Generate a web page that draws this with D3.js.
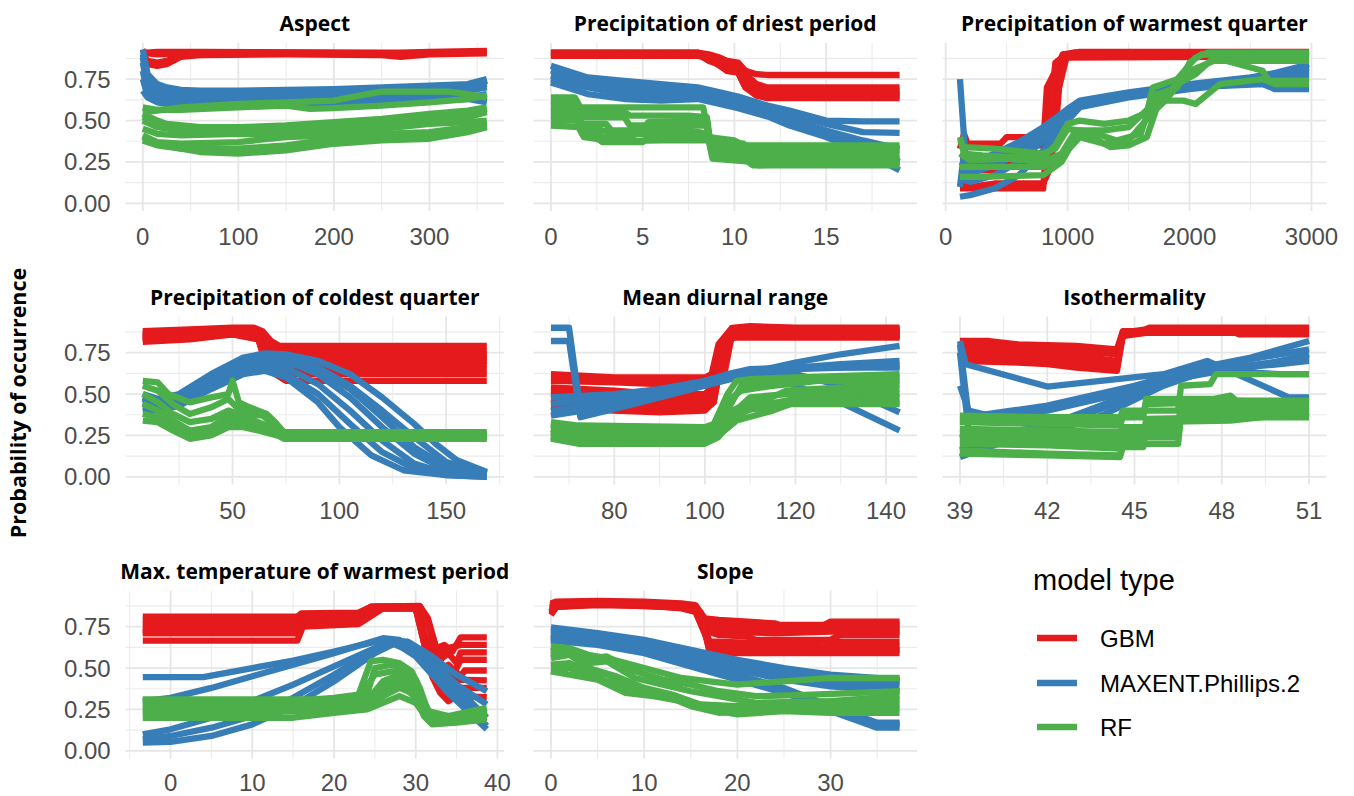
<!DOCTYPE html>
<html>
<head>
<meta charset="utf-8">
<script src="https://cdn.jsdelivr.net/npm/d3@7"></script>
<style>
  body { margin: 0; background: #fff; }
  svg { display: block; }
  .strip { font-family: 'Open Sans', sans-serif; font-weight: 700; font-size: 21px; fill: #000; }
  .axis-title { font-family: 'Open Sans', sans-serif; font-weight: 700; font-size: 21.5px; fill: #000; }
  .tick-label { font-family: 'Liberation Sans', Arial, sans-serif; font-size: 24px; fill: #4d4d4d; }
  .legend-title { font-family: 'Liberation Sans', Arial, sans-serif; font-size: 29px; fill: #000; }
  .legend-label { font-family: 'Liberation Sans', Arial, sans-serif; font-size: 24px; fill: #000; }
</style>
</head>
<body>
<script>
// ---- data ----
var modelTypes = ['GBM', 'MAXENT.Phillips.2', 'RF'];
var panelTitles = ['Aspect', 'Precipitation of driest period', 'Precipitation of warmest quarter',
  'Precipitation of coldest quarter', 'Mean diurnal range', 'Isothermality',
  'Max. temperature of warmest period', 'Slope'];
var yTicks = [0, 0.25, 0.5, 0.75];

// each line is a list of [x, probability] points
var aspectTicks = [0, 100, 200, 300];
var aspectGBM = [
  [[0,0.91],[5,0.91],[15,0.915],[60,0.915],[250,0.91],[270,0.91],[300,0.915],[360,0.92]],
  [[0,0.90],[5,0.86],[15,0.85],[25,0.86],[40,0.895],[60,0.90],[150,0.905],[250,0.90],[270,0.895],[300,0.905],[360,0.91]],
  [[0,0.88],[5,0.84],[15,0.83],[25,0.84],[40,0.885],[60,0.895],[150,0.90],[250,0.895],[270,0.885],[300,0.90],[360,0.905]],
  [[0,0.92],[5,0.905],[15,0.90],[40,0.905],[100,0.91],[250,0.905],[270,0.90],[300,0.91],[360,0.915]]
];
var aspectMAXENT = [
  [[0,0.93],[5,0.78],[15,0.72],[25,0.70],[40,0.685],[60,0.68],[100,0.68],[200,0.69],[300,0.71],[340,0.72],[360,0.75]],
  [[0,0.90],[5,0.74],[15,0.69],[25,0.67],[40,0.66],[100,0.655],[200,0.665],[300,0.69],[340,0.70],[360,0.72]],
  [[0,0.88],[5,0.72],[15,0.675],[25,0.66],[40,0.65],[100,0.645],[200,0.655],[300,0.68],[340,0.69],[360,0.74]],
  [[0,0.85],[5,0.70],[15,0.66],[25,0.645],[40,0.635],[100,0.63],[200,0.64],[300,0.665],[340,0.68],[360,0.70]],
  [[0,0.80],[5,0.66],[15,0.63],[25,0.62],[40,0.61],[100,0.605],[200,0.615],[300,0.635],[340,0.65],[360,0.63]],
  [[0,0.75],[5,0.65],[15,0.62],[25,0.61],[40,0.60],[100,0.60],[200,0.61],[300,0.625],[340,0.64],[360,0.66]],
  [[0,0.68],[5,0.64],[15,0.61],[25,0.60],[60,0.59],[100,0.59],[200,0.60],[300,0.62],[340,0.63],[360,0.61]]
];
var aspectRF = [
  [[0,0.58],[15,0.565],[40,0.565],[100,0.58],[150,0.59],[175,0.57],[200,0.575],[250,0.59],[300,0.61],[340,0.63],[360,0.65]],
  [[0,0.54],[15,0.50],[25,0.48],[60,0.46],[100,0.46],[150,0.47],[200,0.49],[250,0.51],[300,0.54],[340,0.56],[360,0.58]],
  [[0,0.52],[15,0.48],[40,0.45],[100,0.44],[150,0.46],[200,0.48],[250,0.50],[300,0.52],[340,0.54],[360,0.57]],
  [[0,0.50],[15,0.46],[40,0.44],[100,0.43],[150,0.44],[200,0.46],[250,0.47],[300,0.51],[340,0.52],[360,0.55]],
  [[0,0.45],[15,0.42],[40,0.41],[100,0.42],[150,0.41],[200,0.43],[250,0.45],[300,0.48],[340,0.49],[360,0.50]],
  [[0,0.41],[15,0.37],[40,0.36],[100,0.37],[150,0.40],[200,0.41],[250,0.40],[300,0.41],[340,0.45],[360,0.47]],
  [[0,0.38],[15,0.35],[40,0.33],[100,0.33],[150,0.35],[200,0.39],[250,0.42],[300,0.43],[340,0.46],[360,0.48]],
  [[0,0.40],[15,0.36],[25,0.35],[40,0.33],[60,0.31],[100,0.30],[150,0.32],[200,0.36],[250,0.38],[300,0.39],[340,0.43],[360,0.46]],
  [[0,0.55],[15,0.56],[40,0.58],[100,0.60],[150,0.61],[200,0.62],[235,0.66],[250,0.675],[320,0.675],[340,0.66],[360,0.64]]
];

var driestTicks = [0, 5, 10, 15];
var driestGBM = [
  [[0,0.91],[8,0.91],[8.6,0.90],[9.2,0.88],[9.6,0.86],[10.2,0.85],[10.6,0.80],[11.2,0.78],[11.8,0.775],[19,0.775]],
  [[0,0.91],[8,0.91],[8.6,0.88],[9.2,0.85],[9.6,0.82],[10.2,0.80],[10.6,0.78],[11.2,0.72],[11.8,0.70],[19,0.70]],
  [[0,0.90],[8,0.905],[8.6,0.87],[9.2,0.83],[9.6,0.80],[10.2,0.79],[10.6,0.70],[11.2,0.67],[11.8,0.66],[19,0.66]],
  [[0,0.90],[8,0.90],[8.6,0.87],[9.2,0.86],[9.6,0.84],[10.2,0.83],[10.6,0.76],[11.2,0.68],[11.8,0.65],[19,0.65]],
  [[0,0.89],[8,0.90],[8.6,0.86],[9.2,0.84],[9.6,0.80],[10.2,0.79],[10.6,0.70],[11.2,0.65],[11.8,0.635],[19,0.635]],
  [[0,0.89],[8,0.89],[8.6,0.88],[9.2,0.86],[9.6,0.85],[10.2,0.82],[10.6,0.75],[11.2,0.70],[11.8,0.68],[19,0.68]]
];
var driestMAXENT = [
  [[0,0.83],[2,0.76],[4,0.74],[6,0.72],[8,0.70],[9.2,0.67],[10.2,0.645],[11.8,0.59],[13,0.56],[15,0.50],[17,0.495],[19,0.495]],
  [[0,0.80],[2,0.74],[4,0.72],[6,0.70],[8,0.69],[9.2,0.66],[10.2,0.63],[11.8,0.58],[13,0.54],[15,0.48],[17,0.43],[19,0.425]],
  [[0,0.77],[2,0.72],[4,0.69],[6,0.67],[8,0.67],[9.2,0.64],[10.2,0.61],[11.8,0.56],[13,0.51],[15,0.44],[17,0.38],[19,0.33]],
  [[0,0.75],[2,0.70],[4,0.66],[6,0.64],[8,0.65],[9.2,0.62],[10.2,0.59],[11.8,0.54],[13,0.49],[15,0.42],[17,0.34],[19,0.25]],
  [[0,0.73],[2,0.66],[4,0.63],[6,0.62],[8,0.63],[9.2,0.60],[10.2,0.575],[11.8,0.525],[13,0.47],[15,0.40],[17,0.31],[19,0.20]]
];
var driestRF = [
  [[0,0.64],[1.3,0.64],[1.6,0.58],[8.3,0.58],[8.6,0.40],[10,0.38],[10.5,0.35],[19,0.35]],
  [[0,0.62],[1.3,0.61],[1.6,0.55],[4,0.55],[4.3,0.53],[7.5,0.53],[8.5,0.52],[8.7,0.36],[10.8,0.33],[11,0.30],[19,0.30]],
  [[0,0.60],[1.3,0.60],[1.6,0.52],[4,0.52],[4.3,0.47],[8.5,0.47],[8.7,0.38],[10.5,0.36],[11,0.32],[19,0.32]],
  [[0,0.58],[1.4,0.57],[1.7,0.48],[3,0.48],[3.3,0.44],[5,0.44],[5.3,0.49],[8,0.50],[8.5,0.50],[8.7,0.33],[10.5,0.31],[11,0.27],[19,0.27]],
  [[0,0.55],[1.4,0.55],[1.7,0.44],[2.5,0.43],[2.8,0.40],[4.5,0.41],[5,0.45],[7,0.45],[8.6,0.42],[8.8,0.31],[10.5,0.29],[11,0.24],[19,0.24]],
  [[0,0.53],[1.4,0.52],[1.7,0.46],[4,0.42],[5,0.42],[8.6,0.41],[8.8,0.30],[11,0.28],[11.3,0.26],[19,0.26]],
  [[0,0.50],[1.4,0.50],[1.7,0.42],[2.5,0.40],[2.8,0.37],[5,0.37],[5.3,0.40],[7,0.40],[8.6,0.39],[8.8,0.29],[10.5,0.27],[11,0.23],[19,0.23]],
  [[0,0.47],[1.5,0.46],[1.8,0.40],[2.5,0.39],[2.8,0.375],[6,0.38],[8.6,0.38],[8.8,0.27],[11,0.25],[11.3,0.23],[19,0.25]]
];

var warmestTicks = [0, 1000, 2000, 3000];
var warmestGBM = [
  [[117,0.33],[150,0.42],[180,0.36],[450,0.36],[500,0.40],[650,0.40],[700,0.35],[800,0.35],[830,0.70],[900,0.80],[960,0.90],[1100,0.915],[2980,0.915]],
  [[117,0.28],[170,0.28],[500,0.28],[800,0.27],[850,0.55],[920,0.86],[1000,0.90],[2980,0.90]],
  [[117,0.25],[170,0.24],[800,0.24],[830,0.26],[870,0.75],[950,0.88],[1050,0.91],[2980,0.91]],
  [[117,0.18],[170,0.20],[450,0.20],[500,0.24],[820,0.24],[900,0.60],[980,0.89],[2980,0.90]],
  [[117,0.12],[200,0.10],[400,0.12],[800,0.12],[850,0.20],[900,0.42],[930,0.70],[990,0.88],[2250,0.885],[2980,0.885]],
  [[117,0.09],[300,0.09],[800,0.09],[820,0.30],[900,0.85],[1000,0.90],[2980,0.905]]
];
var warmestMAXENT = [
  [[117,0.75],[160,0.30],[200,0.22],[400,0.27],[600,0.33],[800,0.42],[1000,0.55],[1100,0.61],[1500,0.66],[2000,0.71],[2500,0.75],[2980,0.80]],
  [[117,0.25],[200,0.24],[400,0.30],[600,0.37],[800,0.46],[1000,0.57],[1100,0.62],[1500,0.67],[2000,0.72],[2500,0.76],[2980,0.82]],
  [[117,0.20],[200,0.18],[400,0.23],[600,0.30],[800,0.42],[1000,0.55],[1100,0.61],[1500,0.665],[2000,0.715],[2500,0.75],[2980,0.84]],
  [[117,0.15],[200,0.13],[400,0.17],[600,0.25],[800,0.38],[1000,0.53],[1100,0.60],[1500,0.65],[2000,0.70],[2600,0.72],[2700,0.69],[2980,0.69]],
  [[117,0.04],[200,0.05],[400,0.09],[600,0.17],[800,0.32],[1000,0.50],[1100,0.58],[1500,0.64],[2000,0.69],[2500,0.73],[2980,0.76]],
  [[117,0.10],[150,0.30],[200,0.26],[400,0.25],[600,0.30],[800,0.40],[1000,0.52],[1100,0.59],[1500,0.645],[2000,0.70],[2500,0.74],[2980,0.78]]
];
var warmestRF = [
  [[117,0.40],[150,0.30],[300,0.29],[500,0.28],[800,0.28],[900,0.35],[1000,0.48],[1100,0.50],[1300,0.48],[1500,0.50],[1650,0.55],[1700,0.70],[1900,0.75],[2050,0.88],[2150,0.91],[2980,0.91]],
  [[117,0.38],[150,0.34],[400,0.33],[800,0.30],[900,0.33],[1000,0.45],[1200,0.43],[1400,0.38],[1600,0.42],[1700,0.65],[1900,0.70],[2000,0.85],[2100,0.90],[2980,0.89]],
  [[117,0.30],[200,0.26],[500,0.27],[800,0.25],[950,0.30],[1050,0.42],[1200,0.40],[1350,0.34],[1500,0.35],[1650,0.40],[1750,0.62],[1950,0.62],[2050,0.60],[2250,0.72],[2600,0.75],[2700,0.72],[2980,0.72]],
  [[117,0.22],[300,0.22],[800,0.22],[950,0.28],[1100,0.40],[1300,0.36],[1500,0.38],[1700,0.55],[1800,0.62],[2000,0.80],[2200,0.86],[2980,0.86]],
  [[117,0.16],[300,0.16],[800,0.17],[950,0.25],[1100,0.44],[1300,0.44],[1500,0.46],[1700,0.60],[1900,0.72],[2050,0.78],[2200,0.88],[2600,0.80],[2650,0.74],[2980,0.74]]
];

var coldestTicks = [50, 100, 150];
var coldestGBM = [
  [[8,0.88],[30,0.89],[50,0.90],[60,0.90],[64,0.88],[68,0.82],[72,0.79],[169,0.79]],
  [[8,0.87],[30,0.88],[50,0.89],[62,0.88],[66,0.80],[72,0.76],[169,0.76]],
  [[8,0.85],[30,0.87],[50,0.89],[62,0.87],[66,0.78],[72,0.74],[169,0.74]],
  [[8,0.86],[30,0.87],[50,0.885],[62,0.87],[65,0.75],[70,0.72],[169,0.72]],
  [[8,0.83],[30,0.85],[50,0.87],[62,0.85],[65,0.74],[70,0.70],[169,0.70]],
  [[8,0.85],[30,0.86],[50,0.88],[62,0.86],[66,0.70],[72,0.68],[169,0.68]],
  [[8,0.815],[30,0.83],[50,0.86],[62,0.83],[66,0.68],[72,0.65],[169,0.65]],
  [[8,0.84],[30,0.85],[50,0.87],[62,0.85],[66,0.72],[68,0.65],[74,0.62],[169,0.62]],
  [[8,0.82],[30,0.84],[50,0.86],[62,0.84],[66,0.66],[70,0.62],[75,0.58],[169,0.58]]
];
var coldestMAXENT = [
  [[8,0.50],[15,0.47],[25,0.50],[40,0.62],[55,0.72],[65,0.745],[75,0.74],[90,0.70],[105,0.62],[120,0.48],[135,0.32],[145,0.20],[155,0.10],[169,0.03]],
  [[8,0.48],[15,0.45],[25,0.48],[40,0.60],[55,0.70],[65,0.73],[75,0.72],[90,0.66],[105,0.55],[120,0.40],[135,0.24],[150,0.09],[169,0.02]],
  [[8,0.47],[15,0.44],[25,0.47],[40,0.59],[55,0.69],[65,0.72],[75,0.70],[90,0.62],[105,0.48],[120,0.30],[135,0.14],[150,0.04],[169,0.01]],
  [[8,0.45],[15,0.43],[25,0.46],[40,0.57],[55,0.67],[65,0.70],[75,0.69],[90,0.64],[105,0.53],[120,0.36],[135,0.18],[150,0.06],[169,0.02]],
  [[8,0.44],[15,0.42],[25,0.45],[40,0.56],[55,0.66],[65,0.68],[75,0.66],[90,0.56],[105,0.40],[120,0.22],[135,0.08],[150,0.02],[169,0.01]],
  [[8,0.42],[15,0.41],[25,0.44],[40,0.54],[55,0.63],[65,0.65],[75,0.62],[90,0.50],[105,0.32],[120,0.15],[135,0.05],[150,0.01],[169,0.0]],
  [[8,0.40],[15,0.40],[25,0.43],[40,0.53],[55,0.62],[65,0.64],[75,0.60],[90,0.45],[100,0.30],[115,0.13],[130,0.04],[150,0.01],[169,0.0]]
];
var coldestRF = [
  [[8,0.58],[15,0.57],[20,0.50],[30,0.45],[40,0.48],[48,0.50],[50,0.58],[53,0.45],[58,0.42],[62,0.40],[66,0.38],[70,0.33],[74,0.27],[169,0.27]],
  [[8,0.55],[15,0.52],[22,0.44],[30,0.38],[40,0.42],[48,0.47],[52,0.42],[58,0.38],[64,0.37],[68,0.33],[73,0.26],[169,0.26]],
  [[8,0.50],[15,0.45],[22,0.38],[30,0.33],[40,0.35],[48,0.40],[55,0.37],[62,0.33],[70,0.29],[74,0.25],[169,0.25]],
  [[8,0.44],[15,0.40],[22,0.34],[30,0.28],[40,0.30],[48,0.37],[55,0.35],[62,0.30],[70,0.27],[74,0.24],[169,0.24]],
  [[8,0.38],[15,0.36],[22,0.30],[30,0.25],[40,0.27],[48,0.34],[55,0.32],[62,0.29],[70,0.26],[74,0.23],[169,0.23]],
  [[8,0.34],[15,0.33],[22,0.28],[30,0.23],[40,0.25],[48,0.30],[55,0.30],[62,0.28],[74,0.24],[169,0.24]]
];

var diurnalTicks = [80, 100, 120, 140];
var diurnalGBM = [
  [[66,0.62],[80,0.60],[100,0.60],[101.5,0.62],[103,0.80],[106,0.90],[110,0.91],[120,0.90],[143,0.90]],
  [[66,0.60],[80,0.585],[100,0.58],[102,0.60],[103.5,0.78],[106,0.89],[143,0.89]],
  [[66,0.58],[80,0.57],[90,0.56],[100,0.55],[102,0.58],[103.5,0.80],[106,0.88],[115,0.88],[143,0.88]],
  [[66,0.54],[80,0.52],[90,0.50],[100,0.50],[102,0.55],[104,0.82],[107,0.89],[120,0.87],[143,0.87]],
  [[66,0.52],[80,0.50],[90,0.47],[100,0.47],[102,0.52],[104,0.78],[107,0.86],[143,0.86]],
  [[66,0.50],[80,0.48],[90,0.45],[100,0.45],[102,0.50],[104,0.75],[106,0.86],[120,0.85],[143,0.85]],
  [[66,0.47],[80,0.45],[90,0.43],[100,0.43],[102,0.47],[104,0.72],[106,0.85],[143,0.85]],
  [[66,0.45],[80,0.43],[90,0.41],[100,0.41],[102,0.45],[103.5,0.70],[106,0.84],[143,0.84]],
  [[66,0.42],[80,0.40],[90,0.39],[100,0.40],[101.5,0.44],[103,0.62],[104,0.58],[106,0.86],[143,0.86]]
];
var diurnalMAXENT = [
  [[66,0.90],[70,0.90],[71.5,0.60],[72.5,0.42],[80,0.45],[90,0.50],[100,0.57],[110,0.63],[120,0.69],[130,0.74],[143,0.79]],
  [[66,0.82],[70,0.82],[71.5,0.55],[72.5,0.36],[80,0.41],[90,0.48],[100,0.55],[110,0.62],[120,0.66],[130,0.68],[143,0.70]],
  [[66,0.48],[80,0.50],[90,0.53],[100,0.58],[105,0.62],[110,0.65],[120,0.66],[143,0.66]],
  [[66,0.44],[80,0.48],[90,0.52],[100,0.57],[110,0.63],[120,0.62],[130,0.55],[143,0.39]],
  [[66,0.40],[80,0.45],[90,0.51],[100,0.57],[110,0.62],[115,0.60],[130,0.45],[143,0.28]],
  [[66,0.37],[80,0.43],[90,0.49],[100,0.56],[110,0.64],[120,0.65],[143,0.67]]
];
var diurnalRF = [
  [[66,0.33],[72,0.31],[100,0.30],[102,0.32],[105,0.50],[107,0.58],[110,0.59],[120,0.60],[143,0.62]],
  [[66,0.32],[72,0.30],[100,0.29],[102,0.31],[105,0.46],[108,0.52],[115,0.55],[125,0.58],[143,0.58]],
  [[66,0.31],[72,0.28],[100,0.28],[102,0.30],[106,0.45],[108,0.55],[115,0.57],[130,0.60],[143,0.60]],
  [[66,0.29],[72,0.25],[100,0.25],[103,0.30],[106,0.40],[110,0.45],[114,0.47],[118,0.52],[143,0.56]],
  [[66,0.28],[72,0.26],[100,0.26],[103,0.29],[106,0.38],[110,0.48],[118,0.50],[143,0.53]],
  [[66,0.27],[72,0.23],[100,0.23],[103,0.28],[106,0.36],[112,0.43],[118,0.46],[143,0.50]],
  [[66,0.25],[72,0.22],[100,0.22],[103,0.27],[107,0.40],[115,0.42],[120,0.48],[143,0.48]],
  [[66,0.23],[72,0.20],[100,0.20],[103,0.24],[107,0.38],[112,0.44],[120,0.44],[143,0.44]],
  [[66,0.24],[72,0.21],[100,0.21],[103,0.25],[107,0.34],[115,0.40],[120,0.45],[143,0.45]]
];

var isoTicks = [39, 42, 45, 48, 51];
var isoGBM = [
  [[39,0.82],[40,0.82],[41,0.80],[43,0.79],[44.4,0.77],[44.6,0.88],[45.3,0.88],[45.5,0.90],[48.3,0.90],[51,0.90]],
  [[39,0.80],[41,0.78],[43,0.76],[44.4,0.74],[44.6,0.86],[45.3,0.87],[45.5,0.89],[48.3,0.89],[48.6,0.87],[51,0.87]],
  [[39,0.78],[41,0.76],[43,0.73],[44.4,0.70],[44.6,0.86],[45.4,0.88],[48.3,0.88],[48.6,0.86],[51,0.86]],
  [[39,0.76],[41,0.74],[43,0.72],[44.4,0.69],[44.6,0.85],[45.4,0.87],[51,0.87]],
  [[39,0.74],[41,0.73],[43,0.70],[44.4,0.67],[44.6,0.86],[45.4,0.88],[48.3,0.88],[48.6,0.89],[51,0.89]],
  [[39,0.72],[41,0.71],[42,0.70],[43,0.68],[44.4,0.66],[44.6,0.87],[45.4,0.89],[51,0.89]],
  [[39,0.70],[41,0.69],[42,0.68],[43,0.66],[44.4,0.64],[44.6,0.86],[45.4,0.87],[48.4,0.87],[48.6,0.88],[51,0.88]]
];
var isoMAXENT = [
  [[39,0.82],[39.2,0.68],[42,0.545],[46,0.62],[47.5,0.70],[50.3,0.48],[51,0.48]],
  [[39,0.55],[39.3,0.40],[40,0.37],[42,0.40],[45,0.52],[47.5,0.68],[49,0.66],[51,0.74]],
  [[39,0.80],[39.3,0.36],[40,0.38],[42,0.43],[45,0.55],[47,0.65],[49,0.72],[51,0.82]],
  [[39,0.75],[39.3,0.27],[40,0.25],[42,0.31],[44,0.44],[46,0.60],[48,0.68],[51,0.77]],
  [[39,0.12],[40,0.18],[42,0.30],[44,0.44],[46,0.58],[48,0.64],[50,0.62],[51,0.62]],
  [[39,0.16],[40,0.20],[42,0.30],[44,0.42],[46,0.57],[48,0.65],[50,0.68],[51,0.70]],
  [[39,0.26],[39.5,0.24],[41,0.23],[42,0.26],[44,0.38],[46,0.55],[47.5,0.64],[51,0.72]]
];
var isoRF = [
  [[39,0.37],[42,0.36],[44.5,0.36],[44.6,0.40],[46.5,0.40],[46.6,0.55],[47.6,0.56],[47.8,0.62],[51,0.62]],
  [[39,0.35],[42,0.34],[44.5,0.33],[44.6,0.38],[45.3,0.38],[45.4,0.44],[47.7,0.45],[51,0.44]],
  [[39,0.33],[42,0.32],[44.5,0.31],[44.6,0.36],[45.3,0.36],[45.4,0.47],[47.7,0.47],[48.3,0.49],[48.5,0.46],[51,0.46]],
  [[39,0.29],[42,0.28],[44.5,0.27],[44.6,0.30],[46.5,0.30],[46.6,0.42],[48.3,0.44],[48.5,0.42],[51,0.42]],
  [[39,0.27],[42,0.26],[44.5,0.25],[44.6,0.28],[46.5,0.28],[46.6,0.45],[48.3,0.46],[51,0.45]],
  [[39,0.25],[42,0.24],[44.5,0.22],[44.6,0.26],[46.5,0.26],[46.6,0.40],[48.3,0.41],[51,0.40]],
  [[39,0.22],[42,0.21],[44.5,0.20],[44.6,0.24],[46.5,0.24],[46.6,0.36],[51,0.36]],
  [[39,0.20],[42,0.19],[44.5,0.17],[44.6,0.22],[45.3,0.22],[45.4,0.35],[48.3,0.36],[48.5,0.37],[51,0.37]],
  [[39,0.16],[42,0.14],[44.5,0.13],[44.6,0.20],[46.5,0.20],[46.6,0.38],[51,0.38]],
  [[39,0.14],[42,0.13],[44.5,0.12],[44.6,0.18],[45.3,0.18],[45.4,0.33],[48.3,0.34],[51,0.39]]
];

var maxTempTicks = [0, 10, 20, 30, 40];
var maxTempGBM = [
  [[-3.4,0.81],[15.5,0.81],[16,0.83],[23,0.835],[24.5,0.87],[30.5,0.875],[31.5,0.80],[32.5,0.62],[33.5,0.64],[34.5,0.60],[35.5,0.685],[38.7,0.685]],
  [[-3.4,0.79],[15.5,0.79],[16,0.82],[23,0.82],[24.5,0.87],[30.5,0.87],[31.5,0.78],[32.5,0.58],[34,0.62],[35.5,0.64],[38.7,0.64]],
  [[-3.4,0.77],[15.5,0.77],[16,0.80],[23,0.81],[25,0.87],[30.5,0.87],[32,0.70],[33,0.55],[34,0.59],[35,0.53],[35.5,0.595],[38.7,0.595]],
  [[-3.4,0.75],[15.5,0.75],[16,0.79],[23,0.80],[25,0.86],[30,0.86],[31.5,0.65],[33,0.52],[34.5,0.45],[35.5,0.55],[38.7,0.55]],
  [[-3.4,0.73],[15.5,0.73],[16,0.78],[23,0.80],[25,0.865],[30,0.865],[31.5,0.60],[33,0.48],[34,0.52],[35.5,0.45],[36,0.485],[38.7,0.485]],
  [[-3.4,0.71],[15.5,0.71],[16.2,0.765],[23,0.78],[25.5,0.86],[30,0.86],[31.5,0.55],[33,0.42],[34,0.36],[35,0.43],[38.7,0.425]],
  [[-3.4,0.72],[15.5,0.72],[16.2,0.76],[23,0.77],[25.5,0.86],[30,0.86],[32,0.50],[33,0.38],[34,0.40],[35.5,0.38],[38.7,0.38]],
  [[-3.4,0.665],[15.5,0.665],[16.2,0.75],[23,0.765],[26,0.86],[30,0.86],[32,0.45],[33,0.35],[34,0.30],[35,0.33],[38.7,0.325]]
];
var maxTempMAXENT = [
  [[-3.4,0.445],[4,0.445],[10,0.50],[15,0.545],[20,0.60],[26,0.67],[29,0.66],[32,0.57],[35,0.46],[38.7,0.36]],
  [[-3.4,0.30],[0,0.32],[5,0.38],[10,0.45],[15,0.52],[20,0.59],[26,0.68],[28,0.67],[32,0.54],[35,0.40],[38.7,0.28]],
  [[-3.4,0.10],[0,0.13],[5,0.20],[10,0.30],[15,0.40],[20,0.51],[25,0.62],[27,0.66],[30,0.61],[34,0.43],[38.7,0.20]],
  [[-3.4,0.07],[0,0.09],[5,0.14],[10,0.21],[15,0.32],[20,0.46],[25,0.61],[27,0.65],[30,0.59],[34,0.39],[38.7,0.15]],
  [[-3.4,0.05],[0,0.055],[5,0.09],[10,0.16],[15,0.27],[20,0.42],[25,0.59],[27.5,0.65],[30,0.57],[34,0.35],[38.7,0.13]]
];
var maxTempRF = [
  [[-3.4,0.31],[17,0.31],[20,0.32],[23,0.34],[24.5,0.54],[26,0.55],[28,0.53],[29.5,0.48],[30.5,0.38],[31.5,0.24],[34,0.21],[38.7,0.26]],
  [[-3.4,0.30],[17,0.30],[21,0.31],[24,0.33],[25,0.50],[27,0.52],[29,0.49],[30.5,0.34],[32,0.20],[35,0.21],[38.7,0.23]],
  [[-3.4,0.28],[17,0.29],[20,0.31],[23,0.32],[25,0.46],[27,0.48],[28.5,0.47],[30,0.43],[31,0.29],[32,0.21],[35,0.20],[38.7,0.24]],
  [[-3.4,0.27],[17,0.27],[21,0.29],[24,0.30],[26,0.42],[28,0.46],[30,0.40],[31,0.26],[32,0.19],[38.7,0.22]],
  [[-3.4,0.25],[17,0.26],[20,0.29],[24,0.30],[26,0.38],[28,0.43],[30,0.36],[31,0.24],[32,0.17],[35,0.19],[38.7,0.21]],
  [[-3.4,0.235],[17,0.25],[21,0.27],[24,0.28],[26,0.36],[28,0.41],[30,0.32],[31,0.22],[32,0.17],[38.7,0.21]],
  [[-3.4,0.22],[17,0.24],[21,0.27],[24,0.27],[26,0.33],[28,0.38],[30,0.34],[31,0.21],[32,0.16],[35,0.17],[38.7,0.19]],
  [[-3.4,0.20],[15,0.20],[20,0.23],[24,0.25],[26,0.29],[28,0.33],[30,0.29],[31.5,0.19],[35,0.18],[38.7,0.20]]
];

var slopeTicks = [0, 10, 20, 30];
var slopeGBM = [
  [[0,0.89],[0.5,0.90],[5,0.905],[10,0.90],[14,0.89],[15.5,0.88],[16.5,0.80],[18,0.79],[24,0.77],[25,0.75],[29,0.75],[30,0.78],[37.4,0.78]],
  [[0,0.88],[0.5,0.895],[5,0.90],[14,0.88],[15.5,0.87],[16.5,0.78],[18,0.77],[24,0.76],[25,0.76],[37.4,0.76]],
  [[0,0.87],[0.5,0.89],[5,0.895],[10,0.89],[14,0.88],[15.5,0.86],[16.5,0.76],[18,0.75],[24,0.74],[30,0.74],[37.4,0.74]],
  [[0,0.86],[0.5,0.885],[5,0.89],[10,0.885],[14,0.875],[15.5,0.85],[16.5,0.74],[18,0.72],[24,0.71],[30,0.72],[37.4,0.72]],
  [[0,0.84],[0.5,0.88],[5,0.89],[10,0.88],[14,0.87],[15.5,0.85],[16.8,0.72],[18,0.70],[21,0.69],[22,0.67],[30,0.67],[31,0.70],[37.4,0.70]],
  [[0,0.83],[0.6,0.87],[5,0.88],[10,0.875],[14,0.865],[16,0.83],[17,0.66],[18,0.66],[22,0.65],[30,0.66],[37.4,0.66]],
  [[0,0.82],[0.6,0.87],[5,0.885],[10,0.88],[14,0.86],[15.5,0.84],[17,0.64],[18,0.64],[21,0.63],[22,0.62],[29,0.62],[30,0.63],[37.4,0.63]],
  [[0,0.84],[0.6,0.875],[5,0.885],[14,0.865],[16,0.83],[17,0.62],[18,0.61],[37.4,0.61]],
  [[0,0.85],[0.6,0.88],[5,0.89],[10,0.885],[14,0.87],[16,0.84],[17,0.60],[18,0.59],[37.4,0.59]]
];
var slopeMAXENT = [
  [[0,0.745],[5,0.71],[10,0.67],[15,0.61],[20,0.55],[25,0.50],[30,0.46],[37.4,0.43]],
  [[0,0.73],[5,0.70],[10,0.66],[15,0.60],[20,0.54],[25,0.49],[30,0.45],[37.4,0.42]],
  [[0,0.71],[5,0.68],[10,0.64],[15,0.58],[20,0.51],[25,0.46],[30,0.42],[37.4,0.39]],
  [[0,0.69],[5,0.66],[10,0.62],[15,0.56],[20,0.49],[25,0.43],[30,0.39],[37.4,0.36]],
  [[0,0.70],[5,0.67],[10,0.62],[15,0.54],[20,0.46],[25,0.38],[30,0.27],[35,0.17],[37.4,0.17]],
  [[0,0.68],[5,0.65],[10,0.60],[15,0.52],[20,0.44],[25,0.36],[30,0.24],[35,0.14],[37.4,0.14]],
  [[0,0.665],[5,0.64],[10,0.59],[15,0.51],[20,0.43],[25,0.35],[30,0.26],[35,0.16],[37.4,0.16]]
];
var slopeRF = [
  [[0,0.63],[2,0.62],[4,0.58],[6,0.56],[10,0.50],[14,0.44],[17,0.42],[20,0.40],[25,0.42],[30,0.44],[37.4,0.44]],
  [[0,0.60],[1.5,0.62],[3,0.55],[6,0.57],[9,0.48],[12,0.43],[15,0.40],[18,0.36],[22,0.33],[28,0.34],[37.4,0.36]],
  [[0,0.58],[2,0.60],[4,0.53],[6,0.54],[9,0.44],[12,0.40],[15,0.36],[18,0.33],[22,0.29],[30,0.30],[37.4,0.33]],
  [[0,0.56],[2,0.58],[4,0.50],[7,0.45],[10,0.38],[13,0.34],[16,0.28],[20,0.27],[25,0.29],[37.4,0.31]],
  [[0,0.52],[2,0.53],[4,0.48],[6,0.46],[9,0.38],[12,0.34],[15,0.27],[18,0.23],[22,0.24],[30,0.25],[37.4,0.26]],
  [[0,0.50],[2,0.50],[4,0.46],[7,0.40],[10,0.36],[14,0.30],[17,0.27],[20,0.25],[25,0.27],[30,0.27],[37.4,0.28]],
  [[0,0.48],[2,0.46],[5,0.43],[8,0.35],[11,0.33],[14,0.30],[17,0.25],[20,0.22],[25,0.24],[30,0.23],[37.4,0.23]]
];

// panel table built from the arrays above
var panels = [
  { title: panelTitles[0], ticks: aspectTicks,  lines: [aspectGBM,  aspectMAXENT,  aspectRF] },
  { title: panelTitles[1], ticks: driestTicks,  lines: [driestGBM,  driestMAXENT,  driestRF] },
  { title: panelTitles[2], ticks: warmestTicks, lines: [warmestGBM, warmestMAXENT, warmestRF] },
  { title: panelTitles[3], ticks: coldestTicks, lines: [coldestGBM, coldestMAXENT, coldestRF] },
  { title: panelTitles[4], ticks: diurnalTicks, lines: [diurnalGBM, diurnalMAXENT, diurnalRF] },
  { title: panelTitles[5], ticks: isoTicks,     lines: [isoGBM,     isoMAXENT,     isoRF] },
  { title: panelTitles[6], ticks: maxTempTicks, lines: [maxTempGBM, maxTempMAXENT, maxTempRF] },
  { title: panelTitles[7], ticks: slopeTicks,   lines: [slopeGBM,   slopeMAXENT,   slopeRF] }
];

// ---- layout ----
var width = 1354, height = 796;
var colLeft = [125.6, 533.5, 942.5];
var colWidth = [378.4, 383.5, 384];
var rowTop = [43, 316.5, 590.5];
var panelHeight = 168;
var lineWidth = 6.3;
var colour = d3.scaleOrdinal().domain(modelTypes).range(['#e41a1c', '#377eb8', '#4daf4a']);

var svg = d3.select('body').append('svg').attr('width', width).attr('height', height);

// ggplot-like y scale: fixed across panels, 5% expansion of the data range
var yScale = d3.scaleLinear().domain([-0.046, 0.968]).range([panelHeight, 0]);

panels.forEach(function (p, i) {
  var col = i % 3, row = Math.floor(i / 3);
  var w = colWidth[col];
  var g = svg.append('g').attr('transform', 'translate(' + colLeft[col] + ',' + rowTop[row] + ')');

  // free x scale per panel, 5% expansion like ggplot
  var allX = [];
  p.lines.forEach(function (set) { set.forEach(function (l) { l.forEach(function (d) { allX.push(d[0]); }); }); });
  var ext = d3.extent(allX), pad = (ext[1] - ext[0]) * 0.05;
  var x = d3.scaleLinear().domain([ext[0] - pad, ext[1] + pad]).range([0, w]);

  // minor breaks halfway between major ones
  var step = p.ticks[1] - p.ticks[0];
  var minorX = [p.ticks[0] - step / 2].concat(p.ticks.map(function (t) { return t + step / 2; }))
    .filter(function (v) { return v > x.domain()[0] && v < x.domain()[1]; });
  var minorY = [0.125, 0.375, 0.625, 0.875];

  var grid = g.append('g');
  grid.selectAll('.minor-y').data(minorY).enter().append('line')
    .attr('x1', 0).attr('x2', w).attr('y1', yScale).attr('y2', yScale)
    .attr('stroke', '#ececec').attr('stroke-width', 1.1);
  grid.selectAll('.minor-x').data(minorX).enter().append('line')
    .attr('y1', 0).attr('y2', panelHeight).attr('x1', x).attr('x2', x)
    .attr('stroke', '#ececec').attr('stroke-width', 1.1);
  grid.selectAll('.major-y').data(yTicks).enter().append('line')
    .attr('x1', 0).attr('x2', w).attr('y1', yScale).attr('y2', yScale)
    .attr('stroke', '#e6e6e6').attr('stroke-width', 1.8);
  grid.selectAll('.major-x').data(p.ticks).enter().append('line')
    .attr('y1', 0).attr('y2', panelHeight).attr('x1', x).attr('x2', x)
    .attr('stroke', '#e6e6e6').attr('stroke-width', 1.8);

  var line = d3.line().x(function (d) { return x(d[0]); }).y(function (d) { return yScale(d[1]); });

  // GBM first, then MAXENT, then RF on top
  p.lines.forEach(function (set, m) {
    g.append('g').selectAll('path').data(set).enter().append('path')
      .attr('d', line)
      .attr('fill', 'none')
      .attr('stroke', colour(modelTypes[m]))
      .attr('stroke-width', lineWidth)
      .attr('stroke-linejoin', 'round');
  });

  // strip title
  g.append('text').attr('class', 'strip')
    .attr('x', w / 2).attr('y', -12).attr('text-anchor', 'middle').text(p.title);

  // x tick labels
  g.selectAll('.xl').data(p.ticks).enter().append('text').attr('class', 'tick-label')
    .attr('x', x).attr('y', panelHeight + (row === 2 ? 32 : 34)).attr('text-anchor', 'middle')
    .text(function (d) { return d; });

  // y tick labels only on the first column
  if (col === 0) {
    g.selectAll('.yl').data(yTicks).enter().append('text').attr('class', 'tick-label')
      .attr('x', -15).attr('y', function (d) { return yScale(d) + 8.5; }).attr('text-anchor', 'end')
      .text(function (d) { return d3.format('.2f')(d); });
  }
});

// y axis title
svg.append('text').attr('class', 'axis-title')
  .attr('transform', 'translate(26,403) rotate(-90)').attr('text-anchor', 'middle')
  .text('Probability of occurrence');

// legend
var legend = svg.append('g').attr('transform', 'translate(1033,0)');
legend.append('text').attr('class', 'legend-title').attr('x', 0).attr('y', 590).text('model type');
var keyY = [638, 683, 727];
modelTypes.forEach(function (m, i) {
  legend.append('line').attr('x1', 4).attr('x2', 44).attr('y1', keyY[i]).attr('y2', keyY[i])
    .attr('stroke', colour(m)).attr('stroke-width', lineWidth);
  legend.append('text').attr('class', 'legend-label').attr('x', 67).attr('y', keyY[i] + 8.5).text(m);
});
</script>
</body>
</html>
